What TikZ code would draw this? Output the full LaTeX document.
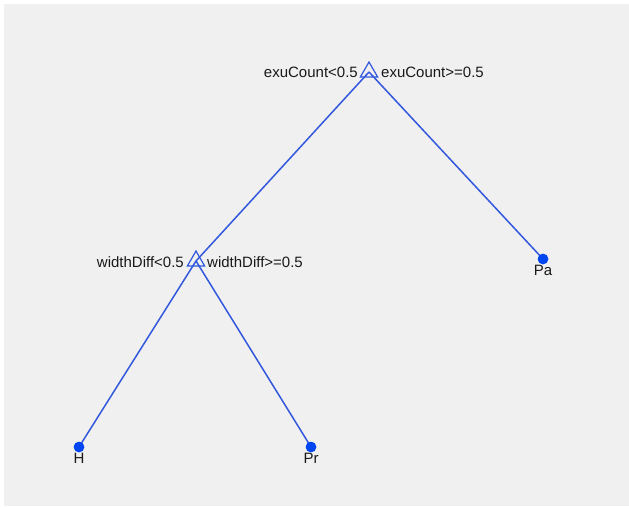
\documentclass[tikz,border=0pt]{standalone}
\usepackage{fontspec}
\setmainfont{Liberation Sans}
\definecolor{panel}{RGB}{240,240,240}
\definecolor{branch}{RGB}{50,88,222}
\definecolor{leafdot}{RGB}{0,70,240}
\definecolor{labeltext}{RGB}{25,25,25}
\tikzset{
  edge/.style={draw=branch, line width=1.5pt},
  splitnode/.style={draw=branch, line width=1.2pt, isosceles triangle, isosceles triangle apex angle=60,
    shape border rotate=90, minimum height=15pt, inner sep=0pt, fill=none},
  leafnode/.style={circle, fill=leafdot, minimum size=10.5pt, inner sep=0pt},
  rule/.style={font=\fontsize{15}{15}\selectfont, text=labeltext, inner sep=0pt},
  leaflabel/.style={font=\fontsize{15}{15}\selectfont, text=labeltext, inner sep=0pt},
}
\usetikzlibrary{shapes.geometric}
\begin{document}
\begin{tikzpicture}[x=1pt, y=-1pt]
  \useasboundingbox (0,0) rectangle (629,506);
  \fill[panel] (4,4) rectangle (629,506);

  % tree nodes
  \coordinate (root) at (369,72);
  \coordinate (split) at (196,261);
  \node[leafnode] (pa) at (543,259) {};
  \node[leafnode] (h) at (79,447) {};
  \node[leafnode] (pr) at (311,447) {};

  % branches
  \draw[edge] (root) -- (split);
  \draw[edge] (root) -- (pa.center);
  \draw[edge] (split) -- (h.center);
  \draw[edge] (split) -- (pr.center);

  % split markers
  \node[splitnode] (rootmark) at (root) {};
  \node[splitnode] (splitmark) at (split) {};

  % redraw leaf dots on top
  \node[leafnode] at (pa) {};
  \node[leafnode] at (h) {};
  \node[leafnode] at (pr) {};

  % split rules
  \node[rule, anchor=east] (r1l) at (358,72) {exuCount<0.5};
  \node[rule, anchor=west] (r1r) at (381,72) {exuCount>=0.5};
  \node[rule, anchor=east] (r2l) at (184,262) {widthDiff<0.5};
  \node[rule, anchor=west] (r2r) at (207,262) {widthDiff>=0.5};

  % leaf classes
  \node[leaflabel] (tpa) at (543,270) {Pa};
  \node[leaflabel] (th) at (79,458) {H};
  \node[leaflabel] (tpr) at (311,458) {Pr};
\end{tikzpicture}
\end{document}
